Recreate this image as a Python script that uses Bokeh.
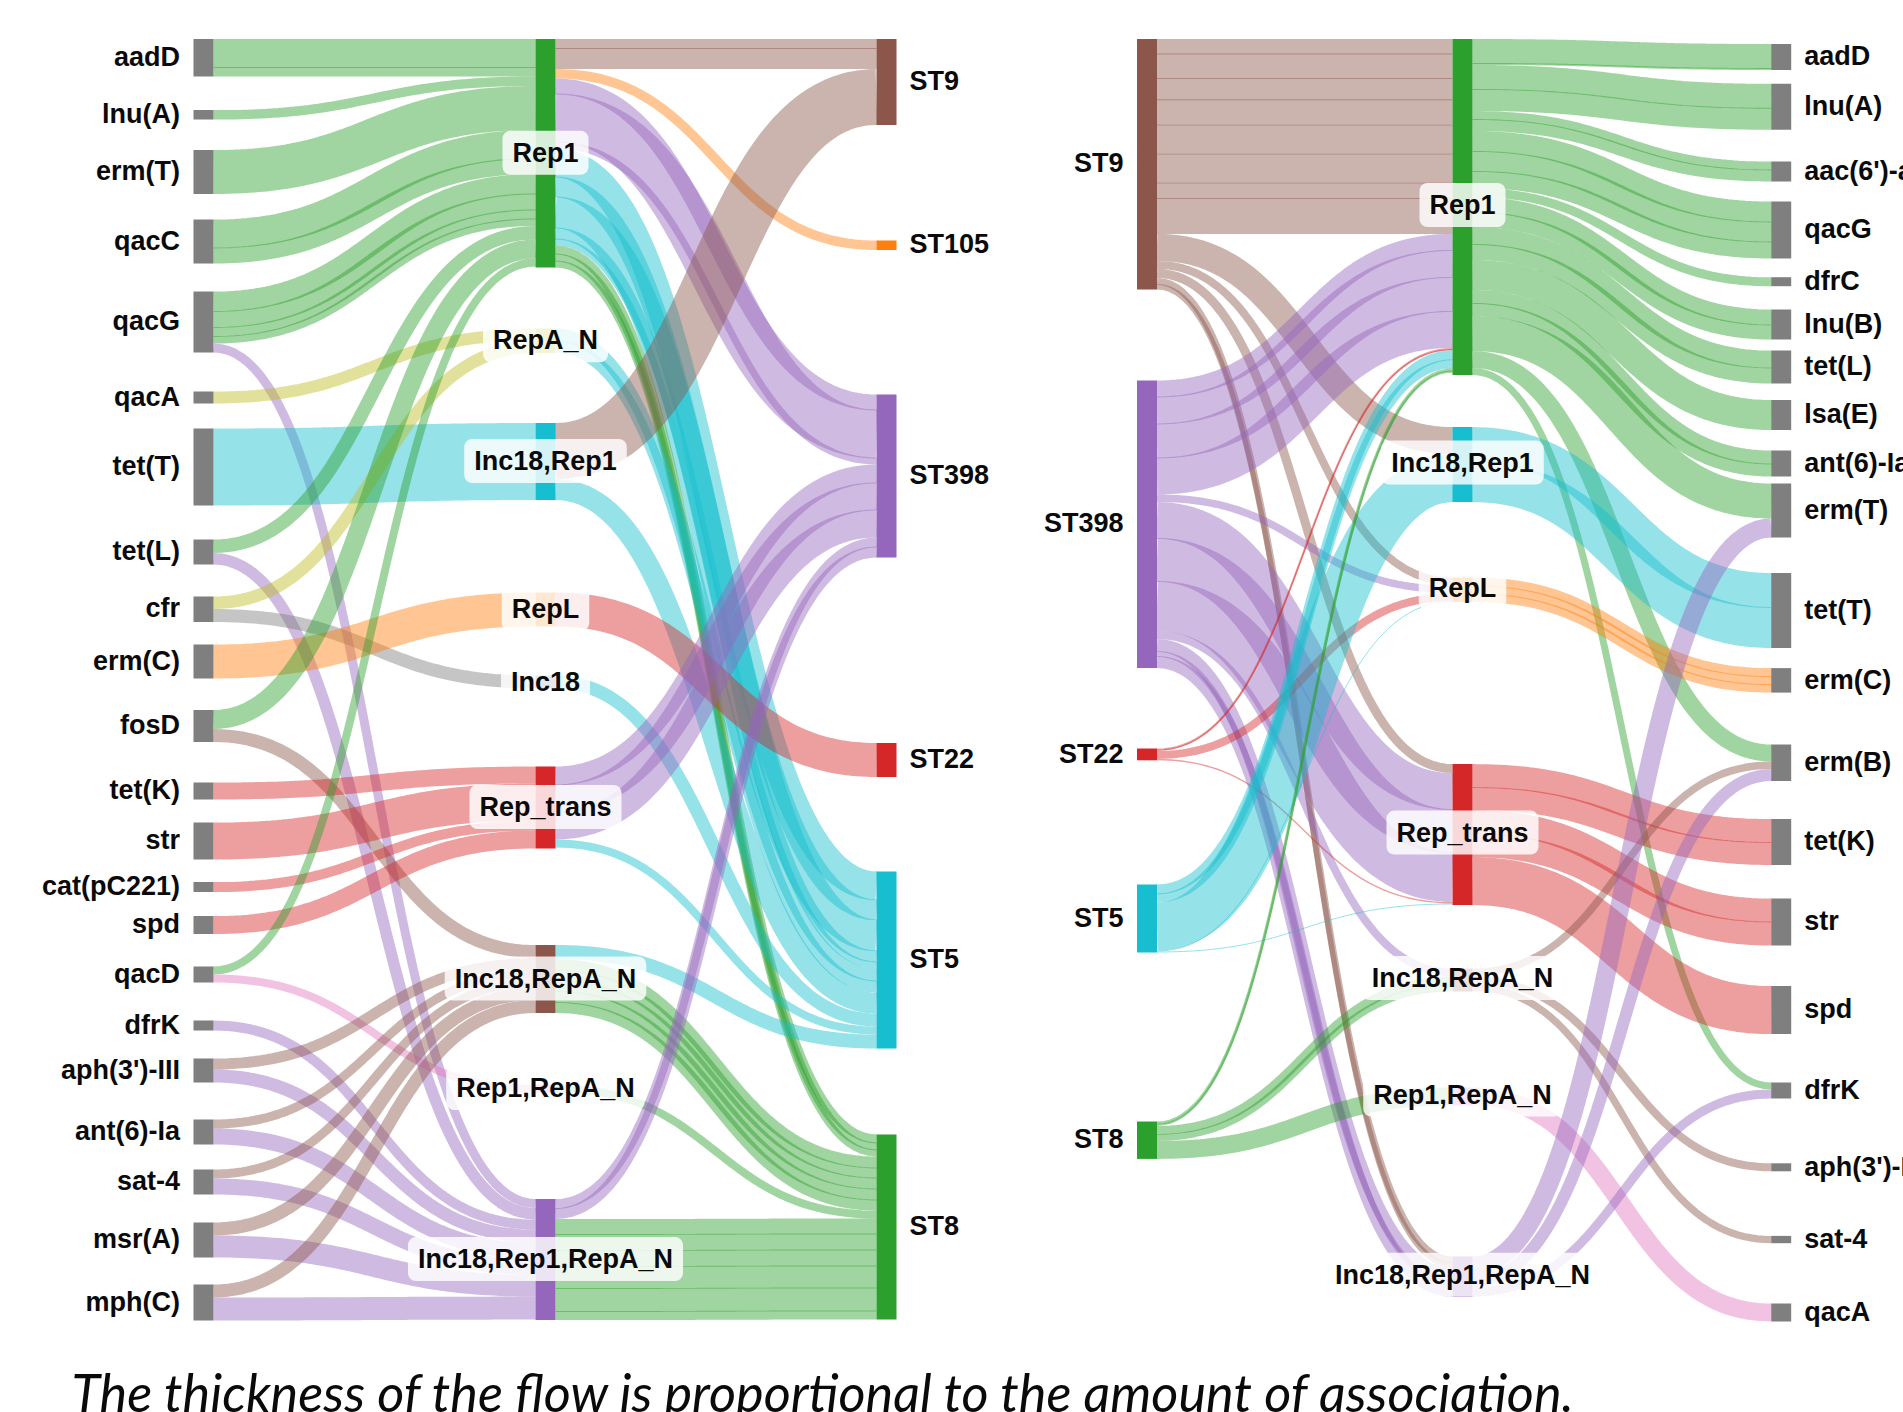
from bokeh.plotting import figure
from bokeh.models import Range1d, Label, ColumnDataSource
from bokeh.core.properties import value
from bokeh.embed import file_html
from bokeh.resources import INLINE

GRAY, GREEN, OLIVE, CYAN, ORANGE, RED, BROWN, PINK, PURPLE = (
    "#7f7f7f", "#2ca02c", "#bcbd22", "#17becf", "#ff7f0e", "#d62728", "#8c564b", "#e377c2", "#9467bd")

PLASMID_COLORS = {"Rep1": GREEN, "RepA_N": OLIVE, "Inc18,Rep1": CYAN, "RepL": ORANGE, "Inc18": GRAY,
                  "Rep_trans": RED, "Inc18,RepA_N": BROWN, "Rep1,RepA_N": PINK, "Inc18,Rep1,RepA_N": PURPLE}
ST_COLORS = {"ST9": BROWN, "ST105": ORANGE, "ST398": PURPLE, "ST22": RED, "ST5": CYAN, "ST8": GREEN}

# ---------- left panel: gene -> plasmid -> ST ----------
LEFT_GENE_LINKS = [
    ("aadD", "Rep1", [28, 9.5]),
    ("lnu(A)", "Rep1", [9.5]),
    ("erm(T)", "Rep1", [44]),
    ("qacC", "Rep1", [28, 16]),
    ("qacG", "Rep1", [19.5, 16, 9, 7.5]),
    ("qacG", "Inc18,Rep1,RepA_N", [9]),
    ("qacA", "RepA_N", [12]),
    ("tet(T)", "Inc18,Rep1", [77]),
    ("tet(L)", "Rep1", [13.5]),
    ("tet(L)", "Inc18,Rep1,RepA_N", [11.5]),
    ("cfr", "RepA_N", [12.5]),
    ("cfr", "Inc18", [13]),
    ("erm(C)", "RepL", [34]),
    ("fosD", "Rep1", [19]),
    ("fosD", "Inc18,RepA_N", [13]),
    ("tet(K)", "Rep_trans", [17]),
    ("str", "Rep_trans", [37]),
    ("cat(pC221)", "Rep_trans", [10]),
    ("spd", "Rep_trans", [18]),
    ("qacD", "Rep1", [8]),
    ("qacD", "Rep1,RepA_N", [8]),
    ("dfrK", "Inc18,Rep1,RepA_N", [10]),
    ("aph(3')-III", "Inc18,RepA_N", [11]),
    ("aph(3')-III", "Inc18,Rep1,RepA_N", [13]),
    ("ant(6)-Ia", "Inc18,RepA_N", [9]),
    ("ant(6)-Ia", "Inc18,Rep1,RepA_N", [16]),
    ("sat-4", "Inc18,RepA_N", [9]),
    ("sat-4", "Inc18,Rep1,RepA_N", [16]),
    ("msr(A)", "Inc18,RepA_N", [13]),
    ("msr(A)", "Inc18,Rep1,RepA_N", [22]),
    ("mph(C)", "Inc18,RepA_N", [13]),
    ("mph(C)", "Inc18,Rep1,RepA_N", [23]),
]
LEFT_ST_LINKS = [
    ("Rep1", "ST9", [9, 21]),
    ("Rep1", "ST105", [9.5]),
    ("Rep1", "ST398", [15, 48, 7]),
    ("Rep1", "ST5", [28, 20, 31, 11, 7]),
    ("Rep1", "ST8", [8, 7, 7]),
    ("RepA_N", "ST5", [12, 12]),
    ("Inc18,Rep1", "ST9", [56]),
    ("Inc18,Rep1", "ST5", [21]),
    ("RepL", "ST22", [34]),
    ("Inc18", "ST5", [13]),
    ("Rep_trans", "ST398", [18, 27, 28]),
    ("Rep_trans", "ST5", [8]),
    ("Inc18,RepA_N", "ST5", [14]),
    ("Inc18,RepA_N", "ST8", [11, 10, 11, 11, 11]),
    ("Rep1,RepA_N", "ST8", [8]),
    ("Inc18,Rep1,RepA_N", "ST398", [9, 11]),
    ("Inc18,Rep1,RepA_N", "ST8", [15, 16, 16, 22, 23, 9]),
]

# ---------- right panel: ST -> plasmid -> gene ----------
RIGHT_ST_LINKS = [
    ("ST9", "Rep1", [14.5, 24.5, 21.3, 25.4, 29, 29, 15.4, 35.8]),
    ("ST9", "Inc18,Rep1", [27]),
    ("ST9", "RepL", [8]),
    ("ST9", "Rep_trans", [9]),
    ("ST9", "Inc18,Rep1,RepA_N", [6, 5.5]),
    ("ST398", "Rep1", [16, 27, 34, 37]),
    ("ST398", "RepL", [7.5]),
    ("ST398", "Rep_trans", [36, 43, 50]),
    ("ST398", "Inc18,RepA_N", [8]),
    ("ST398", "Inc18,Rep1,RepA_N", [12, 5, 12]),
    ("ST22", "Rep1", [1.2, 1.2]),
    ("ST22", "RepL", [8]),
    ("ST22", "Rep_trans", [1.4]),
    ("ST5", "Rep1", [9, 9]),
    ("ST5", "Inc18,Rep1", [48]),
    ("ST5", "RepL", [1]),
    ("ST5", "Rep_trans", [1]),
    ("ST8", "Rep1", [2.2, 2.2]),
    ("ST8", "Inc18,RepA_N", [8, 7]),
    ("ST8", "Rep1,RepA_N", [18]),
]
RIGHT_GENE_LINKS = [
    ("Rep1", "aadD", [24, 2]),
    ("Rep1", "lnu(A)", [24, 22]),
    ("Rep1", "aac(6')-aph(2'')", [8, 12]),
    ("Rep1", "qacG", [20, 20, 17]),
    ("Rep1", "dfrC", [9]),
    ("Rep1", "lnu(B)", [15, 15]),
    ("Rep1", "tet(L)", [17, 16]),
    ("Rep1", "lsa(E)", [30]),
    ("Rep1", "ant(6)-Ia", [13, 13]),
    ("Rep1", "erm(T)", [35]),
    ("Rep1", "erm(B)", [17]),
    ("Rep1", "dfrK", [7]),
    ("Inc18,Rep1", "tet(T)", [34, 41]),
    ("RepL", "erm(C)", [8, 8, 8.5]),
    ("Rep_trans", "tet(K)", [23, 23]),
    ("Rep_trans", "str", [23, 24]),
    ("Rep_trans", "spd", [48]),
    ("Inc18,RepA_N", "erm(B)", [7.5]),
    ("Inc18,RepA_N", "aph(3')-III", [8]),
    ("Inc18,RepA_N", "sat-4", [7.3]),
    ("Rep1,RepA_N", "qacA", [18]),
    ("Inc18,Rep1,RepA_N", "erm(T)", [19]),
    ("Inc18,Rep1,RepA_N", "erm(B)", [12]),
    ("Inc18,Rep1,RepA_N", "dfrK", [9]),
]

CAPTION = "The thickness of the flow is proportional to the amount of association."

# ---------- layout (separate from the values) ----------
LEFT_TOPS = [
    {"aadD": 38.5, "lnu(A)": 109.6, "erm(T)": 149.5, "qacC": 219, "qacG": 291, "qacA": 391, "tet(T)": 428,
     "tet(L)": 539, "cfr": 596, "erm(C)": 644, "fosD": 709.5, "tet(K)": 782, "str": 822, "cat(pC221)": 881.6,
     "spd": 915.6, "qacD": 966, "dfrK": 1020, "aph(3')-III": 1058, "ant(6)-Ia": 1119, "sat-4": 1169,
     "msr(A)": 1222, "mph(C)": 1284},
    {"Rep1": 38.5, "RepA_N": 328, "Inc18,Rep1": 422.5, "RepL": 592, "Inc18": 675, "Rep_trans": 766,
     "Inc18,RepA_N": 944.5, "Rep1,RepA_N": 1084, "Inc18,Rep1,RepA_N": 1198.6},
    {"ST9": 38.5, "ST105": 240, "ST398": 394, "ST22": 742.5, "ST5": 871, "ST8": 1134},
]
RIGHT_TOPS = [
    {"ST9": 38.5, "ST398": 380, "ST22": 748, "ST5": 884, "ST8": 1121},
    {"Rep1": 38.5, "Inc18,Rep1": 426.6, "RepL": 577, "Rep_trans": 763.6, "Inc18,RepA_N": 968,
     "Rep1,RepA_N": 1087, "Inc18,Rep1,RepA_N": 1256},
    {"aadD": 43.5, "lnu(A)": 83.3, "aac(6')-aph(2'')": 161, "qacG": 201, "dfrC": 276.7, "lnu(B)": 309, "tet(L)": 350,
     "lsa(E)": 399.5, "ant(6)-Ia": 450, "erm(T)": 483, "tet(T)": 572.5, "erm(C)": 667.6, "erm(B)": 744,
     "tet(K)": 818.5, "str": 898, "spd": 985.6, "dfrK": 1082, "aph(3')-III": 1162.8, "sat-4": 1235.4, "qacA": 1303},
]
LEFT_X = [193, 535, 876]
RIGHT_X = [1136.5, 1452, 1770.7]
NODE_W = 20
LINK_ALPHA = 0.45
SEAM = 0.9
FONT = "Liberation Sans"
TEXT_COLOR = "#0a0a0a"

W, H = 1903, 1412
p = figure(width=W, height=H, x_range=Range1d(0, W), y_range=Range1d(H, 0),
           output_backend="svg", toolbar_location=None, min_border=0,
           outline_line_color=None, background_fill_color="white")
p.axis.visible = False
p.grid.visible = False


def bezier(x0, y0, x1, y1, n=64):
    xm = (x0 + x1) / 2
    xs, ys = [], []
    for i in range(n + 1):
        t = i / n
        a, b, c, d = (1 - t) ** 3, 3 * t * (1 - t) ** 2, 3 * t * t * (1 - t), t ** 3
        xs.append(a * x0 + (b + c) * xm + d * x1)
        ys.append((a + b) * y0 + (c + d) * y1)
    return xs, ys


def draw_panel(stages, tops, xcols, color_of, label_dy):
    """stages: list of link lists, one for each gap between columns."""
    heights = {}
    for c in range(len(tops)):
        inflow, outflow = {}, {}
        if c > 0:
            for l in stages[c - 1]:
                inflow[l[1]] = inflow.get(l[1], 0) + sum(l[2])
        if c < len(stages):
            for l in stages[c]:
                outflow[l[0]] = outflow.get(l[0], 0) + sum(l[2])
        for n in tops[c]:
            heights[(c, n)] = max(inflow.get(n, 0), outflow.get(n, 0))

    xs, ys, colors, widths = [], [], [], []
    for c, links in enumerate(stages):
        src_pos = dict(tops[c])
        tgt_pos = dict(tops[c + 1])
        x0, x1 = xcols[c] + NODE_W, xcols[c + 1]
        for s, t, vals in links:
            for k, v in enumerate(vals):
                seam = SEAM if k < len(vals) - 1 else 0
                tx, ty = bezier(x0, src_pos[s] + (v + seam) / 2, x1, tgt_pos[t] + (v + seam) / 2)
                src_pos[s] += v
                tgt_pos[t] += v
                xs.append(tx)
                ys.append(ty)
                widths.append(v + seam)
                colors.append(color_of(s, t))
    p.multi_line("xs", "ys", source=ColumnDataSource(dict(xs=xs, ys=ys, c=colors, w=widths)),
                 line_color="c", line_width="w", line_alpha=LINK_ALPHA, line_cap="butt")

    nl, nr, nt, nb, nc = [], [], [], [], []
    for c, col in enumerate(tops):
        for n, top in col.items():
            nl.append(xcols[c]); nr.append(xcols[c] + NODE_W)
            nt.append(top); nb.append(top + heights[(c, n)])
            nc.append(ST_COLORS.get(n, PLASMID_COLORS.get(n, GRAY)) if n not in PLASMID_COLORS or c == 1 else GRAY)
    p.quad(left=nl, right=nr, top=nt, bottom=nb, fill_color=nc, line_color=None)

    # side labels
    for c, (col, align, dx) in {0: (tops[0], "right", -13.5), 2: (tops[2], "left", 13)}.items():
        names = list(col)
        p.text(x=[(xcols[c] + dx) if align == "right" else (xcols[c] + NODE_W + dx)] * len(names),
               y=[col[n] + heights[(c, n)] / 2 - 0.8 for n in names], text=names,
               text_align=align, text_baseline="middle", text_color=TEXT_COLOR,
               text_font=value(FONT), text_font_size="27px", text_font_style="bold")
    # centre labels
    for n, top in tops[1].items():
        p.add_layout(Label(x=xcols[1] + NODE_W / 2, y=top + heights[(1, n)] / 2 + label_dy, text=n,
                           text_align="center", text_baseline="middle", text_color=TEXT_COLOR,
                           text_font=FONT, text_font_size="27px", text_font_style="bold",
                           background_fill_color="white", background_fill_alpha=0.82,
                           border_radius=8, padding=(10, 7)))


draw_panel([LEFT_GENE_LINKS, LEFT_ST_LINKS], LEFT_TOPS, LEFT_X,
           lambda s, t: PLASMID_COLORS[t] if t in PLASMID_COLORS else ST_COLORS[t], -0.5)
draw_panel([RIGHT_ST_LINKS, RIGHT_GENE_LINKS], RIGHT_TOPS, RIGHT_X,
           lambda s, t: ST_COLORS[s] if s in ST_COLORS else PLASMID_COLORS[s], -2)

p.text(x=[71], y=[1391], text=[CAPTION], text_align="left", text_baseline="alphabetic", text_color=TEXT_COLOR,
       text_font=value("Lato"), text_font_size="52.2px", text_font_style="italic")

open("out.html", "w").write(file_html(p, INLINE))
